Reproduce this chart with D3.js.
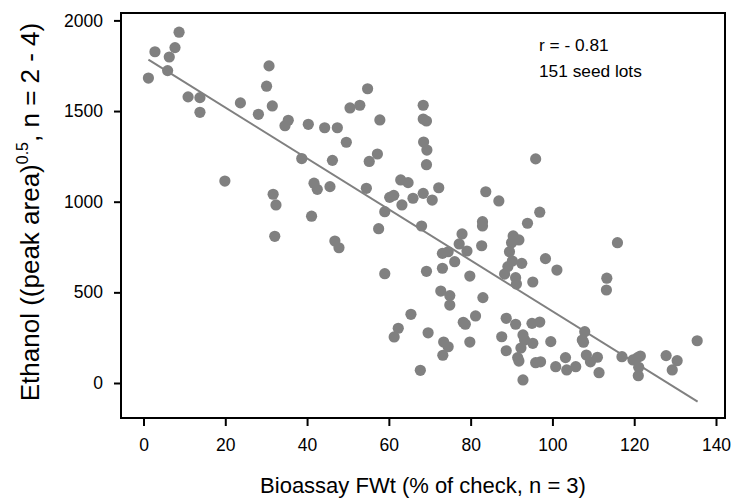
<!DOCTYPE html>
<html><head><meta charset="utf-8">
<script src="https://cdn.jsdelivr.net/npm/d3@7/dist/d3.min.js"></script>
<style>body{margin:0;background:#fff}svg{display:block}text{font-family:"Liberation Sans",Arial,sans-serif}</style>
</head><body><svg id="c" width="734" height="503"></svg>
<script>
const bioassay = [8.7,2.8,7.7,6.3,5.9,1.2,10.9,13.8,13.8,30.7,30.1,31.5,23.7,28.1,35.4,34.6,40.3,38.7,
54.8,50.5,52.9,57.8,44.3,47.4,49.6,57.2,55.2,46.2,68.4,68.4,69.2,68.5,69.3,
19.9,31.7,32.4,32.1,41.1,41.7,42.5,69.2,45.6,54.5,62.9,64.7,60.2,61.2,63.2,65.9,68.4,70.6,72.2,59.0,57.5,68.0,46.8,47.8,
83.7,86.9,82.9,82.9,77.9,77.2,79.1,82.7,73.1,74.5,76.1,73.1,69.2,59.0,79.8,72.7,74.9,83.0,
95.9,96.9,93.9,90.4,91.8,90.0,89.5,90.2,92.5,89.1,88.3,91.0,91.2,95.2,98.3,101.1,115.9,113.3,113.2,
74.9,65.4,62.3,61.3,69.6,81.2,78.7,79.8,73.4,74.5,73.2,67.7,87.6,
88.7,91.0,95.0,96.9,92.8,93.2,95.2,92.3,88.7,99.6,91.8,95.9,97.1,92.8,100.8,103.2,103.5,105.7,107.9,107.3,108.3,109.3,111.0,111.4,117.0,119.7,121.5,121.1,121.0,127.8,130.5,129.3,135.4,
78.2,91.5,107.6,120.8];
const ethanol = [1935,1827,1850,1798,1723,1682,1578,1574,1493,1749,1637,1528,1545,1482,1449,1419,1427,1238,
1623,1517,1532,1451,1408,1408,1328,1263,1222,1228,1532,1456,1445,1329,1285,
1114,1041,982,809,920,1102,1068,1204,1083,1074,1120,1105,1024,1035,982,1019,1046,1009,1077,945,851,866,783,746,
1055,1004,890,866,822,767,728,757,715,724,669,633,616,603,590,507,482,471,
1236,942,881,811,789,774,724,673,660,642,601,581,546,557,686,623,774,578,513,
430,379,302,254,277,370,324,226,226,200,153,70,255,
357,324,329,336,265,237,219,193,178,228,121,112,117,17,90,140,72,90,283,237,154,117,142,57,145,127,149,87,40,151,123,72,233,
335,140,225,140];
const fitX = [1.2, 135.5];
const fitY = [1784, -103];
const xTicks = [0,20,40,60,80,100,120,140];
const yTicks = [0,500,1000,1500,2000];
const notes = ["r = - 0.81", "151 seed lots"];

const svg = d3.select("#c");
const x = d3.scaleLinear().domain([0,140]).range([143.5,716]);
const y = d3.scaleLinear().domain([0,2000]).range([383,20.4]);
const L=121, R=725, T=13, B=418;
const FF = "Liberation Sans, Arial, sans-serif";

svg.append("g").attr("transform",`translate(0,${B})`)
  .call(d3.axisBottom(x).tickValues(xTicks).tickSize(8).tickPadding(13).tickFormat(d3.format("d")))
  .call(g=>g.select(".domain").remove())
  .call(g=>g.selectAll("line").attr("stroke","#000").attr("stroke-width",2))
  .call(g=>g.selectAll("text").attr("font-size",17.5).attr("fill","#000").attr("font-family",FF));
svg.append("g").attr("transform",`translate(${L},0)`)
  .call(d3.axisLeft(y).tickValues(yTicks).tickSize(7).tickPadding(11).tickFormat(d3.format("d")))
  .call(g=>g.select(".domain").remove())
  .call(g=>g.selectAll("line").attr("stroke","#000").attr("stroke-width",2))
  .call(g=>g.selectAll("text").attr("font-size",17.5).attr("fill","#000").attr("font-family",FF));

svg.append("rect").attr("x",L).attr("y",T).attr("width",R-L).attr("height",B-T)
  .attr("fill","none").attr("stroke","#000").attr("stroke-width",2);

svg.append("g").selectAll("circle").data(bioassay.map((v,i)=>[v,ethanol[i]])).join("circle")
  .attr("cx",d=>x(d[0])).attr("cy",d=>y(d[1])).attr("r",5.6).attr("fill","#808080");

svg.append("line").attr("x1",x(fitX[0])).attr("y1",y(fitY[0])).attr("x2",x(fitX[1])).attr("y2",y(fitY[1]))
  .attr("stroke","#808080").attr("stroke-width",2);

svg.selectAll("text.note").data(notes).join("text").attr("class","note")
  .attr("x",539).attr("y",(d,i)=>51+i*26).attr("font-size",17.3).text(d=>d);

svg.append("text").attr("x",423).attr("y",493).attr("text-anchor","middle").attr("font-size",22)
  .text("Bioassay FWt (% of check, n = 3)");
const yt = svg.append("text").attr("transform","translate(39,212) rotate(-90)").attr("text-anchor","middle").attr("font-size",26);
yt.append("tspan").text("Ethanol ((peak area)");
yt.append("tspan").attr("dy",-11).attr("font-size",16).text("0.5");
yt.append("tspan").attr("dy",11).text(", n = 2 - 4)");
</script></body></html>
